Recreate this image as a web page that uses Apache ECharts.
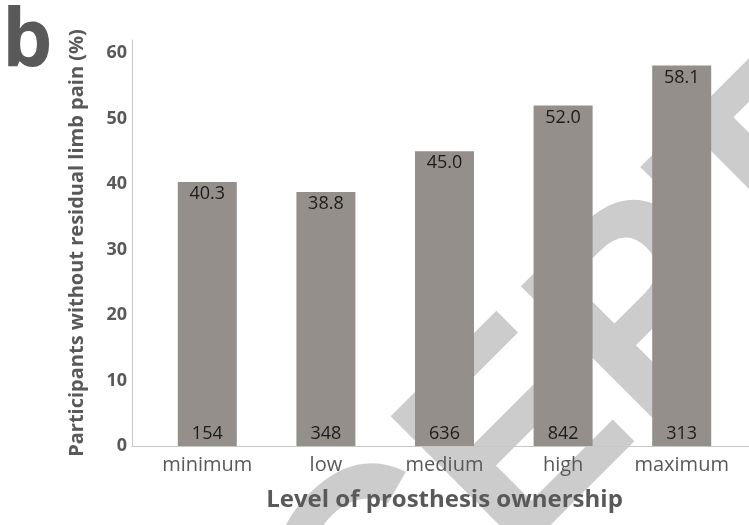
<!DOCTYPE html>
<html>
<head>
<meta charset="utf-8">
<style>
  html, body { margin: 0; padding: 0; background: #fff; }
  #main { width: 749px; height: 525px; }
</style>
<script src="https://cdn.jsdelivr.net/npm/echarts@6/dist/echarts.min.js"></script>
</head>
<body>
<div id="main"></div>
<script>
// 假肢拥有程度 vs 无残肢痛比例
var levels = ["minimum", "low", "medium", "high", "maximum"];
var percents = [40.3, 38.8, 45.0, 52.0, 58.1];
var counts = [154, 348, 636, 842, 313];
var yTicks = [0, 10, 20, 30, 40, 50, 60];

var myChart = echarts.init(document.querySelector("#main"));
var font = "'Open Sans', sans-serif";
var option = {
    animation: false,
    grid: [
        { left: 148, right: 8, top: 40, bottom: 79 },
        // 只用来画更长的x轴线
        { left: 132, right: 0, top: 40, bottom: 79 }
    ],
    graphic: [
        {
            type: "text",
            z: 0,
            x: 572,
            y: 396,
            rotation: 0.785,
            style: {
                text: "ACCEPTED",
                fontFamily: "'Liberation Sans', Arial, sans-serif",
                fontWeight: "bold",
                fontSize: 276,
                fill: "#cccccc",
                align: "center",
                verticalAlign: "middle"
            }
        },
        {
            type: "text",
            z: 10,
            x: 2,
            y: 43,
            style: {
                text: "b",
                fontFamily: font,
                fontWeight: "bold",
                fontSize: 80,
                fill: "#595959",
                verticalAlign: "middle"
            }
        }
    ],
    xAxis: [
        {
            type: "category",
            gridIndex: 0,
            data: levels,
            axisTick: { show: false },
            axisLine: { show: false },
            axisLabel: {
                interval: 0,
                margin: 9,
                fontFamily: font,
                fontSize: 20,
                color: "#595959"
            },
            name: "Level of prosthesis ownership",
            nameLocation: "middle",
            nameGap: 42,
            nameTextStyle: {
                fontFamily: font,
                fontWeight: "bold",
                fontSize: 24,
                color: "#595959"
            }
        },
        {
            type: "value",
            gridIndex: 1,
            min: 0,
            max: 1,
            axisLine: { show: true, lineStyle: { color: "#c8c8c8", width: 1 } },
            axisTick: { show: false },
            axisLabel: { show: false },
            splitLine: { show: false }
        }
    ],
    yAxis: [
        {
            type: "value",
            gridIndex: 0,
            min: 0,
            max: 62,
            interval: 10,
            offset: 16,
            axisLine: { show: true, lineStyle: { color: "#c8c8c8", width: 1 } },
            axisTick: { show: false },
            splitLine: { show: false },
            axisLabel: {
                margin: 5,
                fontFamily: font,
                fontWeight: "bold",
                fontSize: 18,
                color: "#595959",
                formatter: function (v) {
                    return yTicks.indexOf(v) >= 0 ? String(v) : "";
                }
            },
            name: "Participants without residual limb pain (%)",
            nameLocation: "middle",
            nameGap: 45,
            nameTextStyle: {
                fontFamily: font,
                fontWeight: "bold",
                fontSize: 20,
                color: "#595959"
            }
        },
        {
            type: "value",
            gridIndex: 1,
            min: 0,
            max: 1,
            show: false
        }
    ],
    series: [
        {
            type: "bar",
            xAxisIndex: 0,
            yAxisIndex: 0,
            z: 3,
            data: percents,
            barWidth: 59,
            itemStyle: { color: "#948f8b" },
            label: {
                show: true,
                position: "insideTop",
                distance: 3,
                fontFamily: font,
                fontSize: 18,
                color: "#1c1c1c",
                formatter: function (p) {
                    return p.value.toFixed(1);
                }
            }
        },
        {
            type: "bar",
            xAxisIndex: 0,
            yAxisIndex: 0,
            z: 4,
            data: percents,
            barWidth: 59,
            barGap: "-100%",
            itemStyle: { color: "rgba(0,0,0,0)" },
            label: {
                show: true,
                position: "insideBottom",
                distance: 3,
                fontFamily: font,
                fontSize: 18,
                color: "#1c1c1c",
                formatter: function (p) {
                    return String(counts[p.dataIndex]);
                }
            }
        }
    ]
};
myChart.setOption(option);
</script>
</body>
</html>
